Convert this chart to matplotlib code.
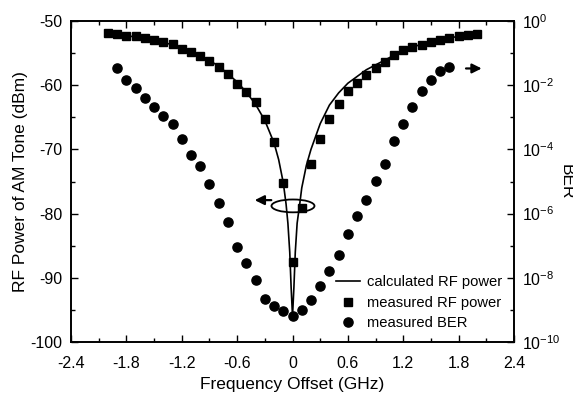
import numpy as np
import matplotlib
matplotlib.use('Agg')
import matplotlib.pyplot as plt
from matplotlib.patches import Ellipse
from matplotlib.ticker import FixedLocator, NullFormatter, MultipleLocator, FuncFormatter

plt.rcParams['font.family'] = ['Liberation Sans', 'DejaVu Sans']
plt.rcParams['mathtext.fontset'] = 'custom'
plt.rcParams['mathtext.rm'] = 'Liberation Sans'

# measured RF power of the AM tone (squares)
rf_freq = [-2.0, -1.9, -1.8, -1.7, -1.6, -1.5, -1.4, -1.3, -1.2, -1.1, -1.0,
           -0.9, -0.8, -0.7, -0.6, -0.5, -0.4, -0.3, -0.2, -0.1, 0.0,
           0.1, 0.2, 0.3, 0.4, 0.5, 0.6, 0.7, 0.8, 0.9, 1.0,
           1.1, 1.2, 1.3, 1.4, 1.5, 1.6, 1.7, 1.8, 1.9, 2.0]
rf_power = [-51.9, -52.1, -52.3, -52.4, -52.65, -52.95, -53.3, -53.6, -54.3, -54.9, -55.5,
            -56.2, -57.1, -58.2, -59.8, -61.0, -62.6, -65.3, -68.8, -75.2, -87.6,
            -79.1, -72.3, -68.4, -65.3, -62.9, -60.9, -59.6, -58.4, -57.4, -56.4,
            -55.3, -54.6, -54.1, -53.7, -53.3, -52.95, -52.65, -52.4, -52.2, -52.1]

# calculated RF power (solid line)
calc_freq = [-2.0, -1.8, -1.6, -1.4, -1.2, -1.0, -0.8, -0.6, -0.5, -0.4, -0.3, -0.2,
             -0.15, -0.1, -0.07, -0.05, -0.03, -0.015, 0.0,
             0.015, 0.03, 0.05, 0.08, 0.1, 0.15, 0.2, 0.3, 0.4, 0.5, 0.6,
             0.8, 1.0, 1.2, 1.4, 1.6, 1.8, 2.0]
calc_power = [-51.9, -52.3, -52.7, -53.3, -54.2, -55.4, -57.0, -59.5, -61.1, -63.0, -65.5, -69.0,
              -71.6, -75.2, -78.5, -81.5, -86.0, -91.5, -96.0,
              -91.5, -86.0, -81.5, -78.3, -76.0, -72.5, -70.0, -66.0, -63.1, -61.2, -59.7,
              -57.6, -56.1, -54.6, -53.6, -52.9, -52.4, -52.0]

# measured BER (circles), log10 of BER
ber_freq = [-1.9, -1.8, -1.7, -1.6, -1.5, -1.4, -1.3, -1.2, -1.1, -1.0,
            -0.9, -0.8, -0.7, -0.6, -0.5, -0.4, -0.3, -0.2, -0.1, 0.0,
            0.1, 0.2, 0.3, 0.4, 0.5, 0.6, 0.7, 0.8, 0.9, 1.0,
            1.1, 1.2, 1.3, 1.4, 1.5, 1.6, 1.7]
ber_log10 = [-1.46, -1.84, -2.08, -2.39, -2.69, -2.96, -3.22, -3.69, -4.19, -4.52,
             -5.09, -5.67, -6.25, -7.05, -7.55, -8.08, -8.65, -8.88, -9.02, -9.20,
             -9.0, -8.70, -8.24, -7.79, -7.28, -6.65, -6.07, -5.59, -4.98, -4.44,
             -3.75, -3.20, -2.67, -2.18, -1.84, -1.57, -1.42]
ber = [10.0 ** v for v in ber_log10]

fig = plt.figure(figsize=(5.73, 3.95), dpi=100)
ax = fig.add_axes([0.124, 0.134, 0.773, 0.813])
ax2 = ax.twinx()

l1, = ax.plot(calc_freq, calc_power, '-', color='k', lw=1.2)
l2, = ax.plot(rf_freq, rf_power, 's', color='k', ms=5.6)
l3, = ax2.plot(ber_freq, ber, 'o', color='k', ms=6.6)

ax.set_xlim(-2.4, 2.4)
ax.set_ylim(-100, -50)
ax.xaxis.set_major_locator(MultipleLocator(0.6))
ax.xaxis.set_minor_locator(MultipleLocator(0.3))
ax.yaxis.set_major_locator(MultipleLocator(10))
ax.yaxis.set_minor_locator(MultipleLocator(5))
ax.xaxis.set_major_formatter(FuncFormatter(lambda v, p: '0' if abs(v) < 1e-9 else '%.1f' % v))
ax.yaxis.set_major_formatter(FuncFormatter(lambda v, p: '%d' % v))

ax2.set_yscale('log')
ax2.set_ylim(1e-10, 1)
ax2.yaxis.set_major_locator(FixedLocator([1e-10, 1e-8, 1e-6, 1e-4, 1e-2, 1]))
ax2.yaxis.set_minor_locator(FixedLocator([1e-9, 1e-7, 1e-5, 1e-3, 1e-1]))
ax2.yaxis.set_minor_formatter(NullFormatter())
ax2.yaxis.set_major_formatter(FuncFormatter(
    lambda v, p: r'$\mathregular{10^{%d}}$' % round(np.log10(v))))

for a in (ax, ax2):
    for s in a.spines.values():
        s.set_linewidth(1.2)
ax.tick_params(which='both', direction='in', top=True, labelsize=11.5, width=1.0)
ax.tick_params(axis='x', which='major', length=5, pad=10)
ax.tick_params(axis='y', which='major', length=5, pad=6)
ax.tick_params(which='minor', length=3)
ax2.tick_params(which='both', direction='in', labelsize=11.5, width=1.0)
ax2.tick_params(which='major', length=5, pad=6)
ax2.tick_params(which='minor', length=3)

ax.set_xlabel('Frequency Offset (GHz)', fontsize=12.5, labelpad=4)
ax.set_ylabel('RF Power of AM Tone (dBm)', fontsize=12.5, labelpad=2)
ax2.set_ylabel('BER', fontsize=12.5, rotation=270, labelpad=9)

# annotation: ellipse with arrow pointing to left axis, arrow pointing to right axis
ax.add_patch(Ellipse((0.005, -78.8), 0.466, 2.0, fill=False, lw=1.3, color='k'))
ax.annotate('', xy=(-0.44, -77.9), xytext=(-0.2, -77.9),
            arrowprops=dict(arrowstyle='-|>', lw=1.6, color='k', mutation_scale=14))
ax.annotate('', xy=(2.08, -57.4), xytext=(1.85, -57.4),
            arrowprops=dict(arrowstyle='-|>', lw=1.6, color='k', mutation_scale=14))

ax2.legend([l1, l2, l3], ['calculated RF power', 'measured RF power', 'measured BER'],
           loc='lower right', frameon=False, fontsize=10.6, handlelength=1.6,
           handletextpad=0.5, labelspacing=0.45, borderaxespad=0.4)

fig.savefig('out.png', dpi=100)
